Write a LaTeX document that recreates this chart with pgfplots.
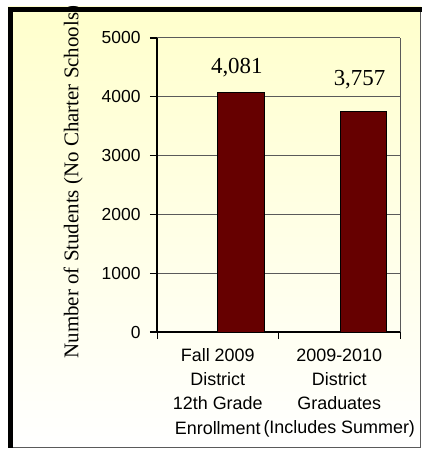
\documentclass[border=0pt]{standalone}
\usepackage{pgfplots}
\pgfplotsset{compat=1.18}
\usepackage{fontspec}
\setmainfont{Liberation Serif}
\setsansfont{Liberation Sans}
\definecolor{barred}{RGB}{102,0,0}
\definecolor{bgyellow}{RGB}{255,255,204}
\definecolor{gridgray}{RGB}{90,90,90}
\begin{document}
\begin{tikzpicture}[x=1bp,y=1bp]
\useasboundingbox (-157,-117) rectangle (265,332);
\shade[top color=bgyellow, bottom color=white] (-149,325) rectangle (264,-116);
\begin{axis}[
  scale only axis,
  width=243bp, height=294bp,
  xmin=0, xmax=2, ymin=0, ymax=5000,
  axis x line=bottom, axis y line=left,
  axis line style={-, black, line width=1.2bp},
  ytick={0,1000,2000,3000,4000,5000},
  ymajorgrids, major grid style={gridgray, line width=1bp},
  xtick={0.5,1.5},
  xticklabels={{Fall 2009\\District\\12th Grade\\Enrollment},{2009-2010\\District\\Graduates\\(Includes Summer)}},
  minor xtick={0,1,2},
  major x tick style={draw=none},
  minor x tick style={black, line width=1bp},
  major y tick style={black, line width=1.2bp},
  tick align=outside,
  major tick length=7bp, minor tick length=7bp,
  extra x ticks={2}, extra x tick labels={},
  extra x tick style={xmajorgrids=true, major x tick style={draw=none}},
  /pgf/number format/assume math mode=true,
  /pgf/number format/1000 sep={},
  yticklabel style={font=\sffamily\fontsize{17.5}{17.5}\selectfont, xshift=-6bp},
  xticklabel style={font=\sffamily\fontsize{18}{24.3}\selectfont, align=center, anchor=north, yshift=-6bp},
  ylabel={Number of Students (No Charter Schools)},
  ylabel style={font=\fontsize{21}{21}\selectfont, at={(axis description cs:-0.345,0.51)}, anchor=center},
  ybar, bar width=0.385,
  nodes near coords,
  nodes near coords style={font=\fontsize{23}{23}\selectfont, anchor=base, xshift=-4bp, /pgf/number format/1000 sep={,}},
  clip=false,
]
\addplot[fill=barred, draw=black, line width=1bp, bar shift=0pt,
  nodes near coords style={yshift=19bp}] coordinates {(0.69,4081)};
\addplot[fill=barred, draw=black, line width=1bp, bar shift=0pt,
  nodes near coords style={yshift=26bp}] coordinates {(1.70,3757)};
\end{axis}
\fill[black] (-149,325) rectangle (265,319.5);
\fill[black] (-149,325) rectangle (-144,-116);
\draw[gridgray, line width=1.2bp] (263.5,319.5) -- (263.5,-115.5) -- (-144,-115.5);
\end{tikzpicture}
\end{document}
